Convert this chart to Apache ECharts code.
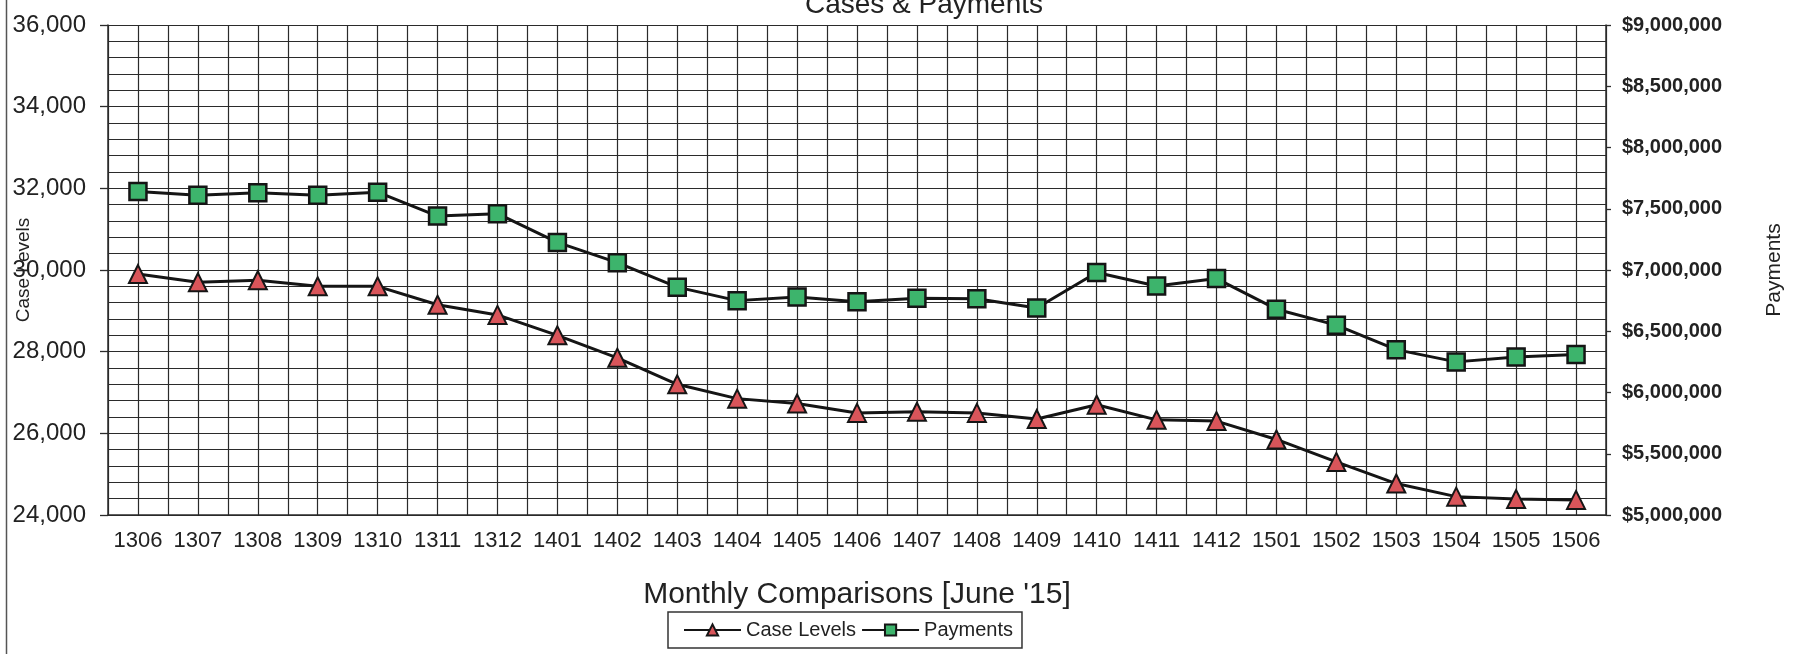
<!DOCTYPE html>
<html>
<head>
<meta charset="utf-8">
<title>Cases & Payments</title>
<script src="https://cdn.jsdelivr.net/npm/echarts@6/dist/echarts.min.js"></script>
<style>
  html, body { margin: 0; padding: 0; background: #fff; }
  #chart { width: 1801px; height: 654px; }
</style>
</head>
<body>
<div id="chart"></div>
<script>
// months (yymm)
const months = ['1306', '1307', '1308', '1309', '1310', '1311', '1312', '1401', '1402', '1403', '1404', '1405', '1406',
  '1407', '1408', '1409', '1410', '1411', '1412', '1501', '1502', '1503', '1504', '1505', '1506']
// left axis
const caseLevels = [29900, 29700, 29750, 29600, 29600, 29150, 28900, 28400, 27850, 27200, 26850, 26730, 26500,
  26530, 26500, 26350, 26700, 26330, 26300, 25850, 25300, 24770, 24450, 24390, 24370]
// right axis
const payments = [7640000, 7610000, 7630000, 7610000, 7635000, 7440000, 7460000, 7225000, 7060000, 6860000, 6750000,
  6780000, 6740000, 6770000, 6765000, 6690000, 6980000, 6870000, 6930000, 6680000, 6550000, 6350000, 6250000,
  6290000, 6310000]

const font = 'Liberation Sans, Arial, sans-serif'
const gridLine = { color: '#2b2b2b', width: 1.2 }

const chart = echarts.init(document.getElementById('chart'))

const option = {
  backgroundColor: '#fff',
  animation: false,
  title: {
    text: 'Cases & Payments',
    left: 924,
    top: -9,
    padding: 0,
    textAlign: 'center',
    textStyle: { fontFamily: font, fontSize: 28, fontWeight: 'normal', color: '#222' }
  },
  legend: {
    left: 668,
    top: 612,
    padding: [8, 9, 8, 15],
    borderColor: '#333',
    borderWidth: 1.5,
    itemWidth: 57,
    itemHeight: 14,
    itemGap: 5,
    textStyle: { fontFamily: font, fontSize: 20, color: '#222' },
    data: ['Case Levels', 'Payments']
  },
  grid: {
    left: 108,
    right: 195,
    top: 25,
    height: 490,
    outerBoundsMode: 'none'
  },
  xAxis: [
    {
      type: 'category',
      data: months,
      boundaryGap: true,
      name: "Monthly Comparisons [June '15]",
      nameLocation: 'middle',
      nameGap: 65,
      nameMoveOverlap: false,
      nameTextStyle: { fontFamily: font, fontSize: 30, color: '#222' },
      axisLine: { lineStyle: { color: '#2b2b2b', width: 1.5 } },
      axisTick: { length: 6, lineStyle: { color: '#2b2b2b', width: 1.3 } },
      axisLabel: { interval: 0, fontFamily: font, fontSize: 22, color: '#222', margin: 15 },
      splitLine: { show: false }
    },
    {
      // half-month vertical grid
      type: 'value',
      min: 0,
      max: 25,
      interval: 0.5,
      position: 'bottom',
      axisLine: { show: false },
      axisTick: { show: false },
      axisLabel: { show: false },
      splitLine: { show: true, lineStyle: gridLine }
    }
  ],
  yAxis: [
    {
      type: 'value',
      min: 24000,
      max: 36000,
      interval: 2000,
      name: 'Case Levels',
      nameLocation: 'middle',
      nameGap: 75,
      nameMoveOverlap: false,
      nameTextStyle: { fontFamily: font, fontSize: 19, color: '#222' },
      axisLine: { show: true, lineStyle: { color: '#2b2b2b', width: 1.5 } },
      axisTick: { show: true, length: 8, lineStyle: { color: '#2b2b2b', width: 1.3 } },
      axisLabel: {
        fontFamily: font, fontSize: 24, color: '#222', margin: 22,
        formatter: (v) => v.toLocaleString('en-US')
      },
      splitLine: { show: true, lineStyle: gridLine },
      minorTick: { show: false, splitNumber: 5 },
      minorSplitLine: { show: true, lineStyle: gridLine }
    },
    {
      type: 'value',
      min: 5000000,
      max: 9000000,
      interval: 500000,
      name: 'Payments',
      nameLocation: 'middle',
      nameGap: 158,
      nameMoveOverlap: false,
      nameTextStyle: { fontFamily: font, fontSize: 21, color: '#222' },
      axisLine: { show: true, lineStyle: { color: '#2b2b2b', width: 1.5 } },
      axisTick: { show: true, length: 5, lineStyle: { color: '#2b2b2b', width: 1.3 } },
      axisLabel: {
        fontFamily: font, fontSize: 20, fontWeight: 'bold', color: '#222', margin: 16,
        formatter: (v) => '$' + v.toLocaleString('en-US')
      },
      splitLine: { show: false }
    }
  ],
  graphic: [
    {
      // scanned frame edge on the left
      type: 'line',
      shape: { x1: 6.5, y1: 0, x2: 6.5, y2: 654 },
      style: { stroke: '#555', lineWidth: 1.5 }
    }
  ],
  series: [
    {
      name: 'Case Levels',
      type: 'line',
      xAxisIndex: 0,
      yAxisIndex: 0,
      data: caseLevels,
      symbol: 'triangle',
      symbolSize: 18,
      lineStyle: { color: '#151515', width: 3 },
      itemStyle: { color: '#d9555a', borderColor: '#151515', borderWidth: 2 },
      z: 5
    },
    {
      name: 'Payments',
      type: 'line',
      xAxisIndex: 0,
      yAxisIndex: 1,
      data: payments,
      symbol: 'rect',
      symbolSize: 17,
      lineStyle: { color: '#151515', width: 3 },
      itemStyle: { color: '#3db46c', borderColor: '#151515', borderWidth: 2.5 },
      z: 5
    }
  ]
}

chart.setOption(option)
</script>
</body>
</html>
